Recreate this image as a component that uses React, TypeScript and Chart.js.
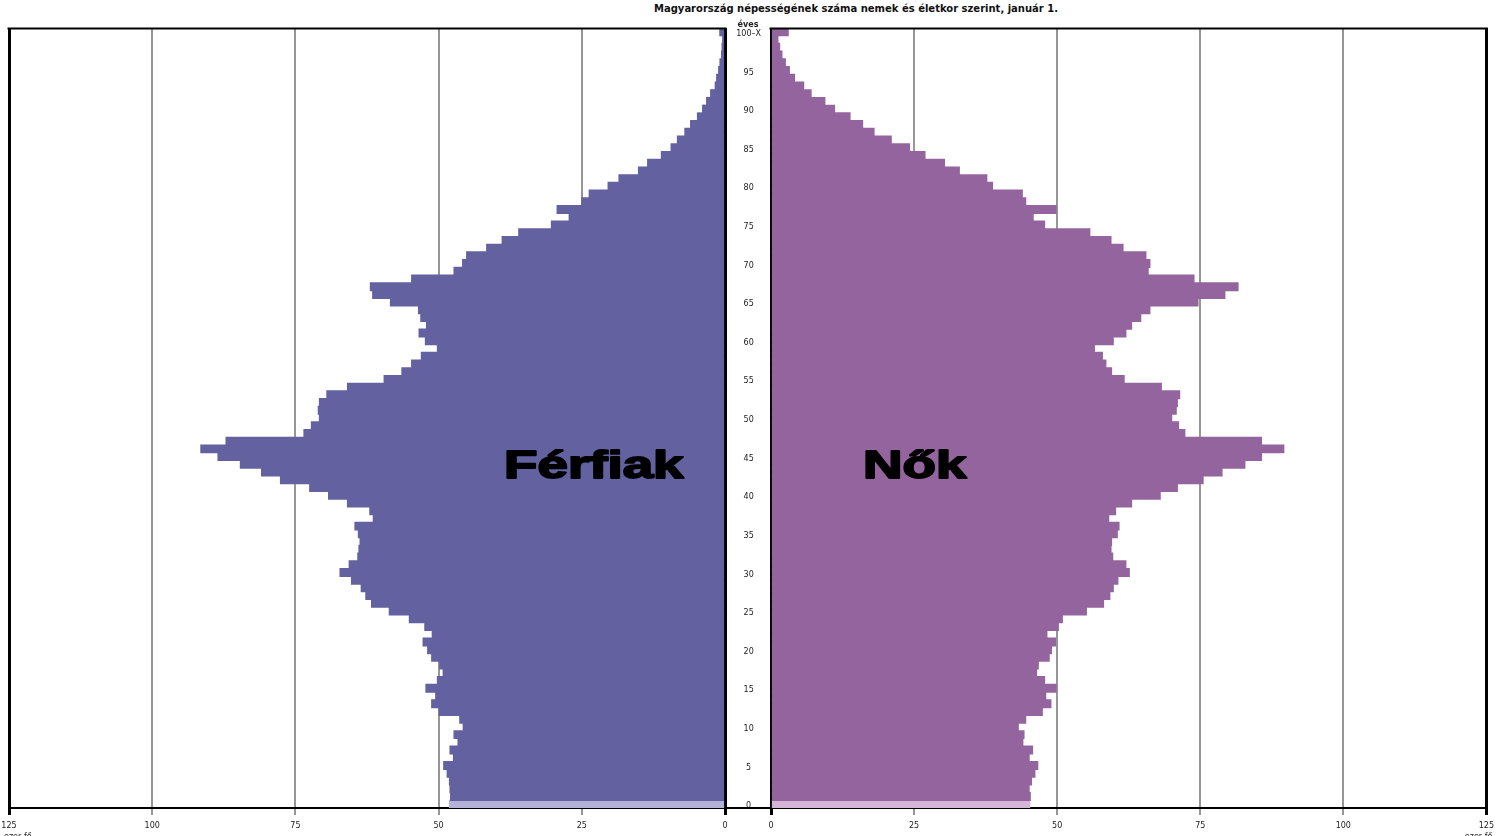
import React, { useEffect, useRef } from "react";
import { Chart, registerables } from "chart.js";

Chart.register(...registerables);

// Ages 0..100 (100 = "100–X")
const ages: number[] = Array.from({ length: 101 }, (_, i) => i);
const ageTickLabels: string[] = ages.map((a) =>
  a === 100 ? "100–X" : a % 5 === 0 ? String(a) : ""
);

// thousand persons, index = age
const maleValues: number[] = [
  48.1, 47.9, 48.0, 48.1, 48.5, 49.1, 47.4, 48.0, 46.6, 47.3,
  45.7, 46.3, 49.9, 51.2, 50.5, 52.2, 50.2, 49.2, 49.8, 51.2,
  51.9, 52.7, 51.1, 52.4, 55.1, 58.6, 61.7, 62.7, 63.5, 65.2,
  67.2, 65.6, 64.1, 63.9, 63.7, 64.0, 64.6, 61.4, 62.0, 65.9,
  69.2, 72.5, 77.6, 80.9, 84.6, 88.5, 91.5, 87.1, 73.5, 72.2,
  70.8, 71.0, 70.8, 69.5, 65.9, 59.5, 56.4, 54.7, 53.0, 50.2,
  52.3, 53.4, 52.1, 53.1, 53.5, 58.4, 61.5, 61.9, 54.7, 47.3,
  45.8, 45.1, 41.6, 38.9, 36.0, 30.3, 27.2, 29.3, 25.0, 23.7,
  20.4, 18.5, 15.1, 13.5, 11.1, 9.4, 8.3, 7.0, 6.0, 4.8,
  3.9, 3.2, 2.5, 1.7, 1.45, 1.1, 0.87, 0.6, 0.5, 0.4,
  0.9,
];

const femaleValues: number[] = [
  45.2, 45.3, 45.1, 45.5, 46.1, 46.6, 45.1, 45.7, 44.0, 44.2,
  43.2, 44.5, 47.4, 48.9, 48.0, 49.8, 47.8, 46.4, 46.7, 48.6,
  49.0, 49.7, 48.2, 50.2, 50.9, 55.1, 58.1, 59.2, 59.8, 60.6,
  62.6, 62.0, 59.7, 59.4, 59.5, 60.5, 60.8, 59.0, 60.2, 63.0,
  68.0, 71.0, 75.5, 78.8, 82.8, 85.7, 89.6, 85.7, 72.3, 71.2,
  70.0, 70.8, 71.0, 71.4, 68.2, 61.7, 59.5, 58.5, 57.9, 56.5,
  59.8, 62.0, 63.0, 64.6, 66.2, 74.6, 79.3, 81.6, 73.9, 65.9,
  66.2, 65.5, 61.5, 59.4, 55.7, 47.8, 45.8, 49.8, 44.5, 43.9,
  38.7, 37.7, 32.9, 30.3, 26.9, 24.2, 21.0, 18.0, 16.0, 13.8,
  11.1, 9.4, 7.0, 5.7, 4.1, 3.2, 2.5, 1.9, 1.5, 1.2,
  3.0,
];

const xTickValues: number[] = [0, 25, 50, 75, 100, 125];

const titleText = "Magyarország népességének száma nemek és életkor szerint, január 1.";
const maleLabel = "Férfiak";
const femaleLabel = "Nők";
const unitLabel = "ezer fő";
const ageUnitLabel = "éves";

const MALE = "#63619f";
const MALE_LIGHT = "#b3b1d7";
const FEMALE = "#94649e";
const FEMALE_LIGHT = "#d4b5d7";
const GRID = "#969696";
const FONT = "'DejaVu Sans', Verdana, sans-serif";

type Side = "left" | "right";

function isEdgeTick(ctx: any): boolean {
  return !!ctx.tick && (ctx.tick.value === 0 || ctx.tick.value === 125);
}

function framePlugin(side: Side) {
  return {
    id: "frame-" + side,
    afterDraw(chart: any) {
      const { ctx, chartArea: a } = chart;
      ctx.save();
      ctx.strokeStyle = "#000";
      ctx.lineWidth = 2;
      ctx.beginPath();
      ctx.moveTo(a.left - 1.5, a.top + 0.5);
      ctx.lineTo(a.right + 1.5, a.top + 0.5);
      ctx.stroke();
      if (side === "right") {
        ctx.beginPath();
        ctx.moveTo(0, a.bottom);
        ctx.lineTo(a.left, a.bottom);
        ctx.stroke();
      }
      ctx.restore();

      // big label
      const xs = chart.scales.x;
      const big = side === "left" ? maleLabel : femaleLabel;
      const cx = xs.getPixelForValue(side === "left" ? 22.9 : 25.1);
      const cy = a.top + 450;
      ctx.save();
      ctx.translate(cx, cy);
      ctx.scale(1.44, 1);
      ctx.font = "bold 38px 'Liberation Sans', Arial, sans-serif";
      ctx.fillStyle = "#000";
      ctx.strokeStyle = "#000";
      ctx.lineWidth = 1.8;
      ctx.lineJoin = "round";
      ctx.textAlign = "center";
      ctx.textBaseline = "alphabetic";
      ctx.fillText(big, 0, 0);
      ctx.strokeText(big, 0, 0);
      ctx.restore();

      // units
      ctx.save();
      ctx.font = `8px ${FONT}`;
      ctx.fillStyle = "#222";
      ctx.textBaseline = "alphabetic";
      if (side === "left") {
        ctx.textAlign = "left";
        ctx.fillText(unitLabel, a.left - 5, 839);
      } else {
        ctx.textAlign = "right";
        ctx.fillText(unitLabel, a.right + 6, 839);
        ctx.font = `bold 8px ${FONT}`;
        ctx.textAlign = "center";
        ctx.fillText(ageUnitLabel, a.left - 23, 27);
      }
      ctx.restore();
    },
  };
}

function makeChart(canvas: HTMLCanvasElement, side: Side) {
  const isLeft = side === "left";
  const values = isLeft ? maleValues : femaleValues;
  const dark = isLeft ? MALE : FEMALE;
  const light = isLeft ? MALE_LIGHT : FEMALE_LIGHT;

  return new Chart(canvas, {
    type: "bar",
    data: {
      labels: ages.map(String),
      datasets: [
        {
          data: values,
          backgroundColor: (ctx: any) => (ctx.dataIndex === 0 ? light : dark),
          borderWidth: 0,
          inflateAmount: 0.6,
          barPercentage: 1,
          categoryPercentage: 1,
        },
      ],
    },
    options: {
      indexAxis: "y",
      responsive: false,
      animation: false,
      events: [],
      layout: {
        padding: isLeft
          ? { left: 9, right: 15, top: 28, bottom: 0 }
          : { left: 0, right: 13, top: 28, bottom: 0 },
      },
      plugins: {
        legend: { display: false },
        tooltip: { enabled: false },
        title: { display: false },
      },
      scales: {
        x: {
          type: "linear",
          min: 0,
          max: 125,
          reverse: isLeft,
          z: 1,
          afterBuildTicks: (s: any) => {
            s.ticks = xTickValues.map((v) => ({ value: v }));
          },
          afterFit: (s: any) => {
            s.height = 28;
          },
          ticks: {
            color: "#222",
            font: { family: FONT, size: 8 },
            padding: 6,
            maxRotation: 0,
            autoSkip: false,
          },
          grid: {
            color: (ctx: any) => (isEdgeTick(ctx) ? "#000" : GRID),
            lineWidth: (ctx: any) => (isEdgeTick(ctx) ? 3 : 2),
            tickLength: 7,
            drawTicks: true,
          },
          border: { display: true, color: "#000", width: 2 },
        },
        y: {
          type: "category",
          reverse: true,
          offset: true,
          display: !isLeft,
          position: "left",
          afterFit: (s: any) => {
            s.width = isLeft ? 0 : 46;
          },
          ticks: {
            autoSkip: false,
            callback: (_v: any, i: number) => ageTickLabels[i],
            crossAlign: "center",
            padding: 10,
            labelOffset: 2,
            color: "#222",
            font: { family: FONT, size: 8 },
          },
          grid: { display: false, drawTicks: false },
          border: { display: false },
        },
      },
    },
    plugins: [framePlugin(side)],
  } as any);
}

function App() {
  const leftRef = useRef<HTMLCanvasElement | null>(null);
  const rightRef = useRef<HTMLCanvasElement | null>(null);

  useEffect(() => {
    const c1 = makeChart(leftRef.current as HTMLCanvasElement, "left");
    const c2 = makeChart(rightRef.current as HTMLCanvasElement, "right");
    return () => {
      c1.destroy();
      c2.destroy();
    };
  }, []);

  return (
    <div
      style={{
        position: "absolute",
        left: 0,
        top: 0,
        width: 1500,
        height: 836,
        overflow: "hidden",
        background: "#fff",
      }}
    >
      <div
        style={{
          position: "absolute",
          left: 654,
          top: 2,
          whiteSpace: "nowrap",
          fontFamily: "'DejaVu Sans', Verdana, sans-serif",
          fontWeight: "bold",
          fontSize: 10,
          lineHeight: "14px",
          color: "#111",
        }}
      >
        {titleText}
      </div>
      <canvas
        ref={leftRef}
        width={740}
        height={836}
        style={{ position: "absolute", left: 0, top: 0, width: 740, height: 836 }}
      />
      <canvas
        ref={rightRef}
        width={775}
        height={836}
        style={{ position: "absolute", left: 725, top: 0, width: 775, height: 836 }}
      />
    </div>
  );
}

export default App;
